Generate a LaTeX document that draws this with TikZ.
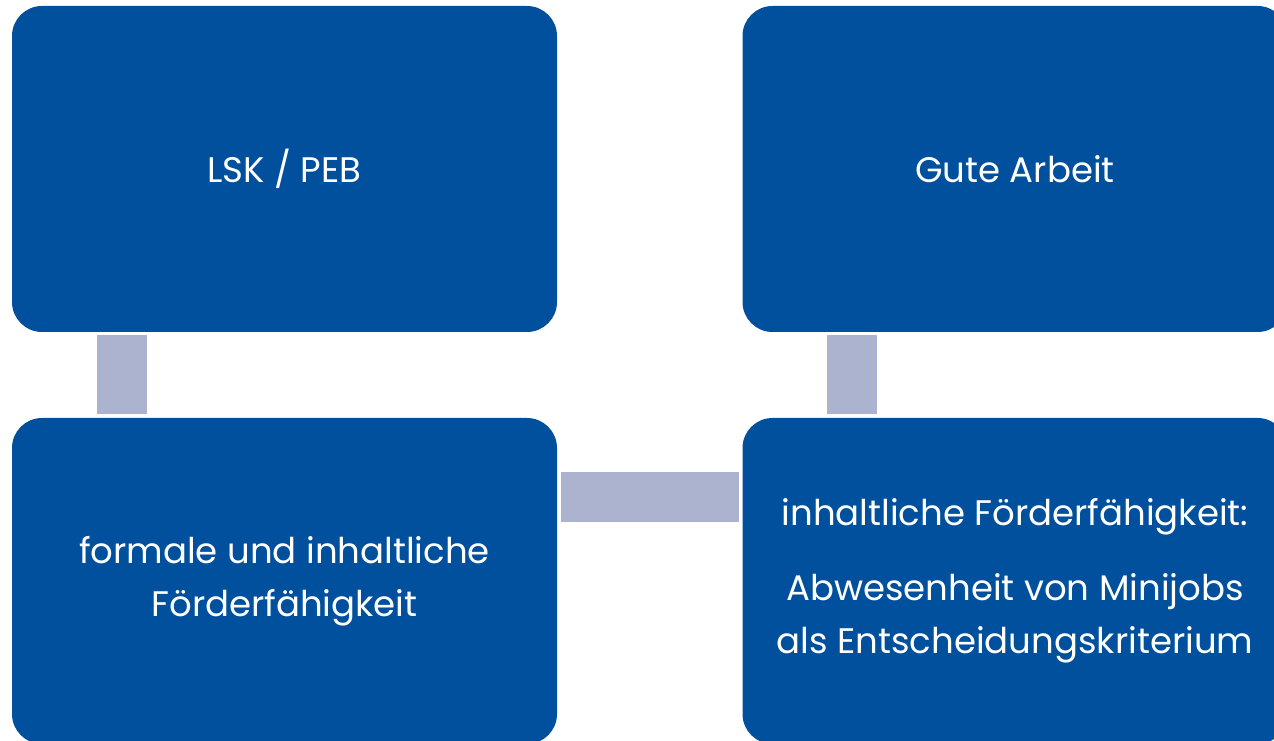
\documentclass[tikz,border=0pt]{standalone}
\usepackage{fontspec}
\setmainfont{Poppins}
\usepackage{xcolor}
\definecolor{boxblue}{RGB}{0,80,158}
\definecolor{linkgrey}{RGB}{171,179,206}

\begin{document}
\begin{tikzpicture}[x=1pt,y=1pt,
    box/.style={rectangle, fill=boxblue, text=white, rounded corners=30pt,
        minimum width=545pt, minimum height=326pt, align=center,
        font=\fontsize{35.5}{53}\selectfont},
    link/.style={linkgrey, line width=50pt}]
        \useasboundingbox (0,0) rectangle (1274,741);
        \clip (0,0) rectangle (1274,741);

        % Boxes
        \node[box] (lsk) at (284.5,572) {LSK / PEB};
        \node[box] (gute) at (1015,572) {Gute Arbeit};
        \node[box] (formal) at (284.5,160) {formale und inhaltliche\\F\"orderf\"ahigkeit};
        \node[box] (inhalt) at (1015,160) {inhaltliche F\"orderf\"ahigkeit:\\[22pt]Abwesenheit von Minijobs\\als Entscheidungskriterium};

        % Links
        \draw[link] ([xshift=110pt,yshift=-3pt]lsk.south west) -- ([xshift=110pt,yshift=4pt]formal.north west);
        \draw[link] ([xshift=110pt,yshift=-3pt]gute.south west) -- ([xshift=110pt,yshift=4pt]inhalt.north west);
        \draw[link] ([xshift=4pt,yshift=-79.5pt]formal.north east) -- ([xshift=-3pt,yshift=-79.5pt]inhalt.north west);
    \end{tikzpicture}
\end{document}
